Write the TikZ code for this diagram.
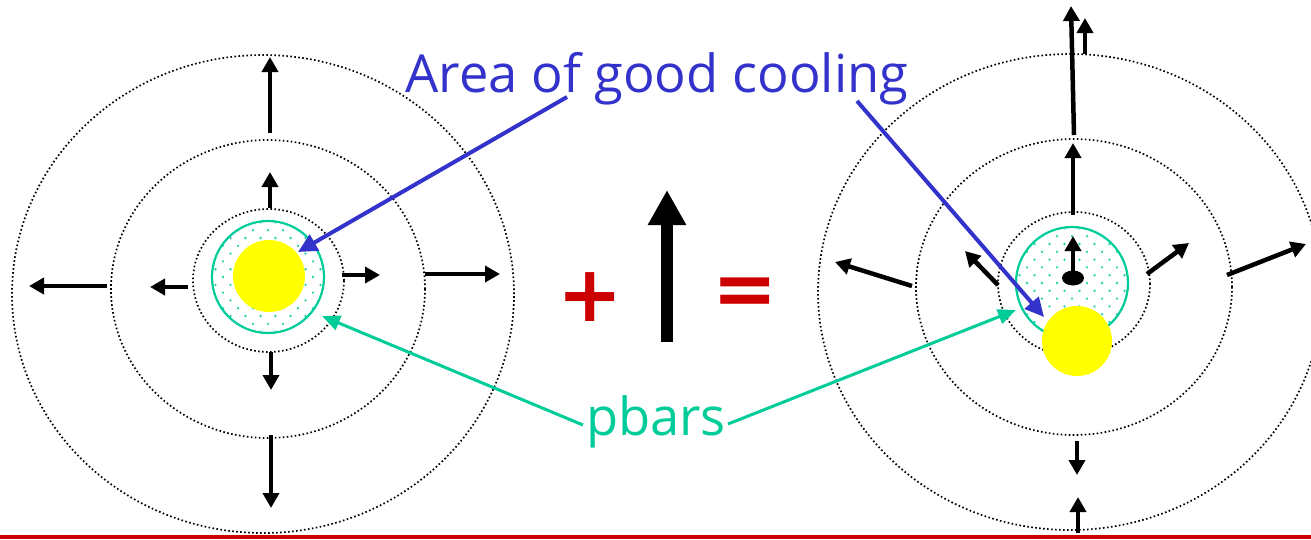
\documentclass[tikz,border=0pt]{standalone}
\usepackage{fontspec}
\setmainfont{Open Sans}
\newfontfamily\symfont{DejaVu Sans}
\usetikzlibrary{arrows.meta,shapes.geometric}
\definecolor{cblue}{RGB}{51,51,204}
\definecolor{cgreen}{RGB}{0,204,153}
\definecolor{cred}{RGB}{204,0,0}
\definecolor{cyel}{RGB}{255,255,0}
\newcommand\mydots[2]{%
  \begin{scope}
    \clip (#1,#2) circle[radius=55pt];
    \foreach \j in {-8,...,8}{
      \foreach \i in {-5,...,5}{
        \pgfmathsetmacro\xx{#1+\i*15+7.5*mod(abs(\j),2)}
        \pgfmathsetmacro\yy{#2+\j*7.8}
        \fill[cgreen!85] (\xx,\yy) circle[radius=1.3pt];
      }}
  \end{scope}}
\tikzset{
  dotc/.style={line width=1.7pt, dash pattern=on 1.6pt off 2.4pt},
  rad/.style={line width=4.5pt, -{Triangle[width=16pt,length=15pt]}},
  bigarrow/.style={line width=12pt, -{Triangle[width=36pt,length=35pt]}},
  bluearrow/.style={cblue, line width=4pt, -{Triangle[width=18pt,length=19pt]}},
  greenarrow/.style={cgreen, line width=3pt, -{Triangle[width=15pt,length=18pt]}},
  ring/.style={cgreen, line width=2.2pt},
  sun/.style={fill=cyel},
  blob/.style={ellipse, fill=black, inner sep=0pt, minimum width=22pt, minimum height=15pt},
  lbl/.style={font=\fontsize{52.5}{60}\selectfont, anchor=base, inner sep=0pt},
  opsym/.style={text=cred, font=\symfont\bfseries\fontsize{78}{78}\selectfont, inner sep=0pt}
}
\begin{document}
\begin{tikzpicture}[x=1pt,y=-1pt]
\useasboundingbox (0,0) rectangle (1311,539);

% ---------- left system ----------
\draw[dotc] (263,294) ellipse[x radius=251pt, y radius=239pt];
\draw[dotc] (268,289) ellipse[x radius=157pt, y radius=149pt];
\draw[dotc] (268.5,280.5) ellipse[x radius=75.5pt, y radius=71.5pt];
\mydots{268}{277}
\draw[ring] (268,277) circle[radius=56pt];
\fill[sun] (269,276) circle[radius=36pt];

\coordinate (LUa) at (270,133); \coordinate (LUb) at (270,57);
\coordinate (LuA) at (270,208); \coordinate (LuB) at (270,172);
\coordinate (LLa) at (107,286); \coordinate (LLb) at (29,286);
\coordinate (LlA) at (188,287); \coordinate (LlB) at (150,287);
\coordinate (LrA) at (342,275); \coordinate (LrB) at (380,275);
\coordinate (LRa) at (425,274); \coordinate (LRb) at (500,274);
\coordinate (LdA) at (271,352); \coordinate (LdB) at (271,390);
\coordinate (LDa) at (271,435); \coordinate (LDb) at (271,508);
\draw[rad] (LUa) -- (LUb);
\draw[rad] (LuA) -- (LuB);
\draw[rad] (LLa) -- (LLb);
\draw[rad] (LlA) -- (LlB);
\draw[rad] (LrA) -- (LrB);
\draw[rad] (LRa) -- (LRb);
\draw[rad] (LdA) -- (LdB);
\draw[rad] (LDa) -- (LDb);

% ---------- right system ----------
\draw[dotc] (1070,292) ellipse[x radius=252pt, y radius=238pt];
\draw[dotc] (1074,287) ellipse[x radius=158pt, y radius=148pt];
\draw[dotc] (1074,284) ellipse[x radius=76pt, y radius=72pt];
\mydots{1072}{283}
\draw[ring] (1072,283) circle[radius=56pt];
\fill[sun] (1077,341) circle[radius=35pt];
\node[blob] (dot) at (1073,278) {};

\coordinate (RcB) at (1073,236);
\coordinate (RuA) at (1073,215); \coordinate (RuB) at (1073,143);
\coordinate (RUa) at (1074,135); \coordinate (RUb) at (1071,6);
\coordinate (RsA) at (1085,54);  \coordinate (RsB) at (1085,18);
\coordinate (RdA) at (1077,441); \coordinate (RdB) at (1077,475);
\coordinate (RbA) at (1078,533); \coordinate (RbB) at (1078,497);
\coordinate (RLa) at (912,286);  \coordinate (RLb) at (835,262);
\coordinate (RlA) at (998,285);  \coordinate (RlB) at (965,251);
\coordinate (RrA) at (1147,274); \coordinate (RrB) at (1189,243);
\coordinate (RRa) at (1227,275); \coordinate (RRb) at (1306,244);
\draw[rad] (dot.center) -- (RcB);
\draw[rad] (RuA) -- (RuB);
\draw[rad] (RUa) -- (RUb);
\draw[rad] (RsA) -- (RsB);
\draw[rad] (RdA) -- (RdB);
\draw[rad] (RbA) -- (RbB);
\draw[rad] (RLa) -- (RLb);
\draw[rad] (RlA) -- (RlB);
\draw[rad] (RrA) -- (RrB);
\draw[rad] (RRa) -- (RRb);

% ---------- middle ----------
\node[opsym] (plus) at (590,297) {+};
\node[opsym] (eq) at (745,297) {=};
\coordinate (MAa) at (667,342); \coordinate (MAb) at (667,190);
\draw[bigarrow] (MAa) -- (MAb);

% ---------- labels ----------
\node[lbl, text=cblue] (area) at (657,92) {Area of good cooling};
\node[lbl, text=cgreen] (pbars) at (656,435) {pbars};
\coordinate (B1s) at (567,97);  \coordinate (B1e) at (298,252);
\coordinate (B2s) at (857,101); \coordinate (B2e) at (1044,317);
\coordinate (G1s) at (583,425); \coordinate (G1e) at (322,316);
\coordinate (G2s) at (728,424); \coordinate (G2e) at (1016,310);
\draw[bluearrow] (B1s) -- (B1e);
\draw[bluearrow] (B2s) -- (B2e);
\draw[greenarrow] (G1s) -- (G1e);
\draw[greenarrow] (G2s) -- (G2e);

% ---------- bottom rule ----------
\fill[cred] (0,535) rectangle (1311,539);
\end{tikzpicture}
\end{document}
